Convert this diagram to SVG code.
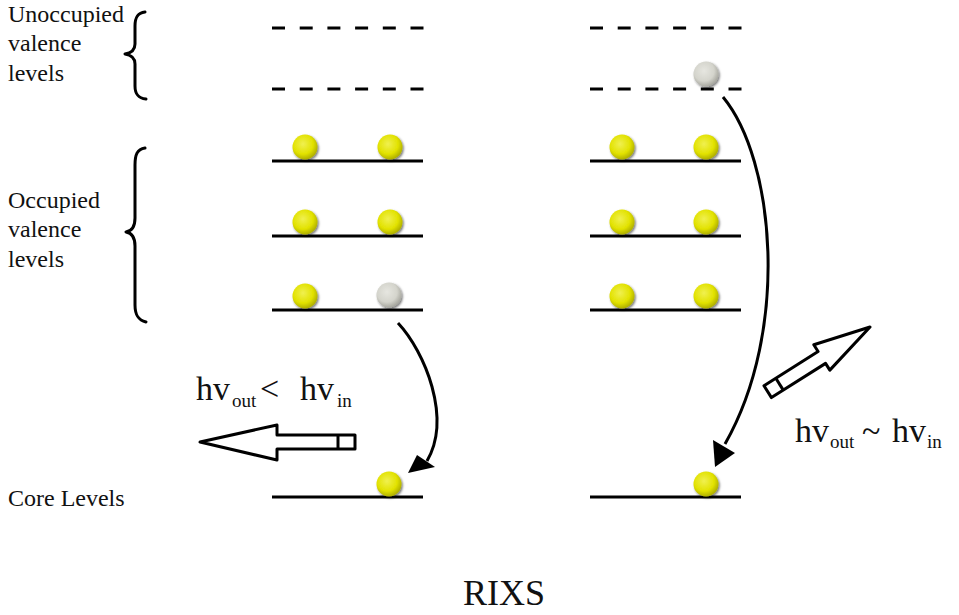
<svg xmlns="http://www.w3.org/2000/svg" width="959" height="615" viewBox="0 0 959 615">
<style>
.lvl{stroke:#000;stroke-width:3;fill:none}
.dash{stroke:#000;stroke-width:3;fill:none;stroke-dasharray:13 14.7}
.lbl{font-family:"Liberation Serif","Times New Roman",serif;font-size:24px;fill:#111}
.big{font-family:"Liberation Serif","Times New Roman",serif;font-size:34px;fill:#111}
.sub{font-family:"Liberation Serif","Times New Roman",serif;font-size:19px;fill:#111}
.brace{stroke:#000;stroke-width:3;fill:none;stroke-linecap:round;stroke-linejoin:round}
.curve{stroke:#000;stroke-width:3;fill:none}
.hollow{stroke:#000;stroke-width:3;fill:#fff;stroke-linejoin:round}
.y{fill:url(#gy);filter:url(#sh)}
.g{fill:url(#gg);filter:url(#sh)}
</style>
<defs>
<radialGradient id="gy" cx="0.42" cy="0.38" r="0.62">
<stop offset="0" stop-color="#f0f050"/>
<stop offset="0.65" stop-color="#e2e200"/>
<stop offset="1" stop-color="#b0b000"/>
</radialGradient>
<radialGradient id="gg" cx="0.42" cy="0.38" r="0.62">
<stop offset="0" stop-color="#e6e6e0"/>
<stop offset="0.65" stop-color="#d4d4cc"/>
<stop offset="1" stop-color="#a8a8a0"/>
</radialGradient>
<filter id="sh" x="-30%" y="-30%" width="170%" height="170%">
<feDropShadow dx="1.2" dy="1.5" stdDeviation="1.2" flood-color="#000" flood-opacity="0.55"/>
</filter>
</defs>
<rect width="959" height="615" fill="#fff"/>

<g id="labels">
<text class="lbl" x="8" y="22">Unoccupied</text>
<text class="lbl" x="8" y="51">valence</text>
<text class="lbl" x="8" y="81">levels</text>
<text class="lbl" x="8" y="208">Occupied</text>
<text class="lbl" x="8" y="237">valence</text>
<text class="lbl" x="8" y="267">levels</text>
<text class="lbl" x="8" y="506">Core Levels</text>
<text x="463" y="605" style="font-family:'Liberation Serif','Times New Roman',serif;font-size:36px;fill:#111">RIXS</text>
</g>

<g id="braces">
<path class="brace" d="M145,12 C137,13 135,18 135,26 L135,44 C135,50 131,53 125,54 C131,55 135,58 135,64 L135,86 C135,94 138,98 146,99"/>
<path class="brace" d="M145,148 C137,149 135,155 135,165 L135,218 C135,227 132,231 126,232 C132,233 135,237 135,246 L135,305 C135,315 138,320 146,322"/>
</g>

<g id="left-levels">
<line class="dash" x1="272" y1="28" x2="424" y2="28"/>
<line class="dash" x1="272" y1="89" x2="424" y2="89"/>
<line class="lvl" x1="272" y1="161" x2="423" y2="161"/>
<line class="lvl" x1="272" y1="236" x2="423" y2="236"/>
<line class="lvl" x1="272" y1="310" x2="423" y2="310"/>
<line class="lvl" x1="272" y1="497" x2="423" y2="497"/>
</g>
<g id="right-levels">
<line class="dash" x1="590" y1="28" x2="742" y2="28"/>
<line class="dash" x1="590" y1="89" x2="742" y2="89"/>
<line class="lvl" x1="590" y1="161" x2="741" y2="161"/>
<line class="lvl" x1="590" y1="236" x2="741" y2="236"/>
<line class="lvl" x1="590" y1="310" x2="741" y2="310"/>
<line class="lvl" x1="590" y1="497" x2="741" y2="497"/>
</g>

<g id="left-electrons">
<circle class="y" cx="305" cy="147" r="12.5"/>
<circle class="y" cx="390" cy="147" r="12.5"/>
<circle class="y" cx="305" cy="222" r="12.5"/>
<circle class="y" cx="390" cy="222" r="12.5"/>
<circle class="y" cx="305" cy="296" r="12.5"/>
<circle class="g" cx="389" cy="295" r="12.5"/>
<circle class="y" cx="389" cy="484" r="12.5"/>
</g>
<g id="right-electrons">
<circle class="g" cx="706" cy="74" r="12.5"/>
<circle class="y" cx="622" cy="147" r="12.5"/>
<circle class="y" cx="706" cy="147" r="12.5"/>
<circle class="y" cx="622" cy="222" r="12.5"/>
<circle class="y" cx="706" cy="222" r="12.5"/>
<circle class="y" cx="622" cy="296" r="12.5"/>
<circle class="y" cx="706" cy="296" r="12.5"/>
<circle class="y" cx="706" cy="484" r="12.5"/>
</g>

<g id="connectors">
<path class="curve" d="M398,323 C425,352 452,418 427,461"/>
<polygon points="408,473 417,455 435,467" fill="#000"/>
<path class="curve" d="M723,97 C775,160 790,330 725,444"/>
<polygon points="715,467 713,440 735,453" fill="#000"/>
</g>

<g id="photon-out-left">
<polygon class="hollow" points="200,442 277,425 277,435 355,435 355,449 277,449 277,460"/>
<line x1="338" y1="435" x2="338" y2="449" stroke="#000" stroke-width="3"/>
</g>
<g id="photon-out-right" transform="translate(870,327) rotate(-32.3)">
<polygon class="hollow" points="0,0 -57,-15 -57,-7 -121,-7 -121,7 -57,7 -57,15"/>
<line x1="-107" y1="-7" x2="-107" y2="7" stroke="#000" stroke-width="3"/>
</g>

<g id="energy-labels">
<text class="big" x="196" y="400">hv</text>
<text class="sub" x="232" y="407">out</text>
<text class="big" x="260" y="400">&lt;</text>
<text class="big" x="300" y="400">hv</text>
<text class="sub" x="337" y="407">in</text>
<text class="big" x="795" y="442">hv</text>
<text class="sub" x="830" y="448">out</text>
<text class="big" x="862" y="442">~</text>
<text class="big" x="892" y="442">hv</text>
<text class="sub" x="927" y="448">in</text>
</g>
</svg>
